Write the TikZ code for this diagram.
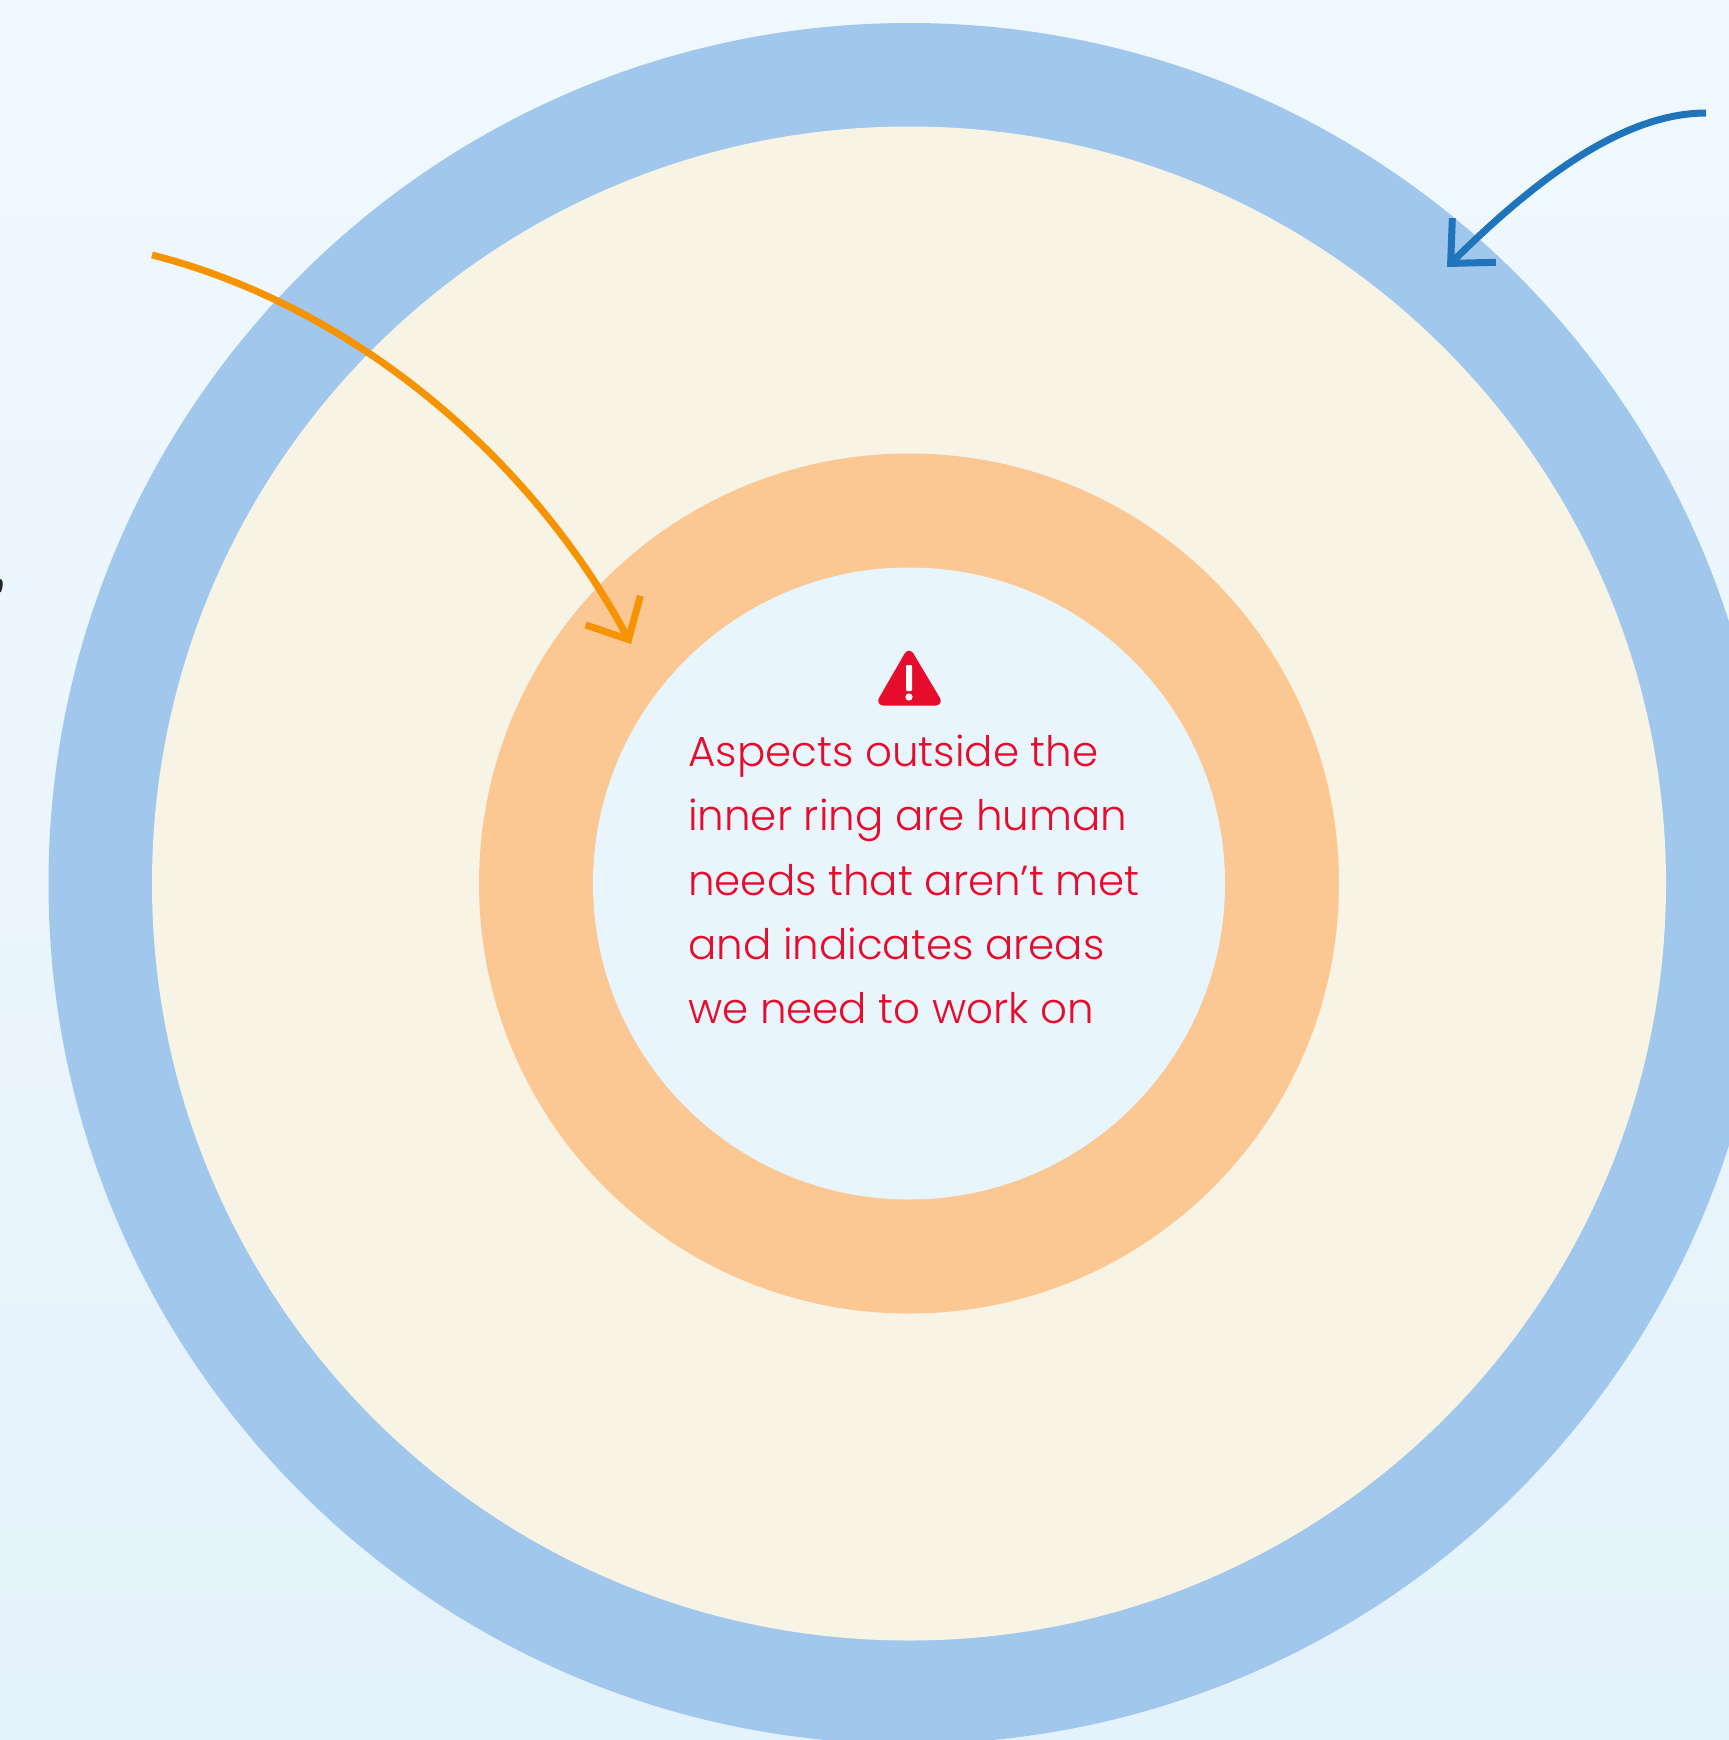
\documentclass[tikz,border=0pt]{standalone}
\usepackage{fontspec}
\setmainfont{Poppins}[UprightFont=* Light]
\usetikzlibrary{arrows.meta}
\definecolor{bgtop}{HTML}{F0F8FF}
\definecolor{bgbot}{HTML}{E4F2FB}
\definecolor{ringblue}{HTML}{A2C7EC}
\definecolor{ringbeige}{HTML}{F7F3E5}
\definecolor{ringorange}{HTML}{FBC893}
\definecolor{ringcore}{HTML}{E9F5FD}
\definecolor{arrowblue}{HTML}{1F74BC}
\definecolor{arroworange}{HTML}{F59300}
\definecolor{warnred}{HTML}{E60C2C}
\tikzset{
  ring/.style={circle, inner sep=0pt, outer sep=0pt},
  pointer/.style={line width=7pt, -{Straight Barb[length=33pt,width=62pt,line width=7pt]}},
}
\begin{document}
\begin{tikzpicture}[x=1pt,y=-1pt]
  \useasboundingbox (0,0) rectangle (1729,1740);
  \clip (0,0) rectangle (1729,1740);

  % background
  \shade[top color=bgtop, bottom color=bgbot] (0,0) rectangle (1729,1740);

  % rings
  \foreach \name/\col/\dia in {outer/ringblue/1721, beige/ringbeige/1514, band/ringorange/860, core/ringcore/632} {
    \node[ring, fill=\col, minimum size=\dia pt] (\name) at (909,883.5) {};
  }

  % cut-off mark on the left edge
  \fill[black!85] (0,579) .. controls (3,579) and (4,584) .. (1,592) -- (0,592) -- cycle;

  % warning sign
  \fill[warnred, draw=warnred, line width=5pt, line join=round, rounded corners=4pt]
    (909,651) -- (940,703) -- (879,703) -- cycle;
  \fill[white, rounded corners=1pt] (906,665) rectangle (912,691);
  \fill[white] (909,697) circle (3.6);

  % label
  \node[anchor=north west, inner sep=0pt, align=left, text=warnred,
        font=\fontsize{42}{64.2}\selectfont] (note) at (688,735)
    {Aspects outside the\\inner ring are human\\needs that aren’t met\\and indicates areas\\we need to work on};

  % arrows
  \coordinate (orangestart) at (152,255);
  \coordinate (orangetip) at (631,644);
  \coordinate (bluestart) at (1706,113);
  \coordinate (bluetip) at (1447,267);
  \draw[pointer, arroworange] (orangestart) .. controls (350,305) and (530,455) .. (orangetip);
  \draw[pointer, arrowblue] (bluestart) .. controls (1620,113) and (1530,185) .. (bluetip);
\end{tikzpicture}
\end{document}
